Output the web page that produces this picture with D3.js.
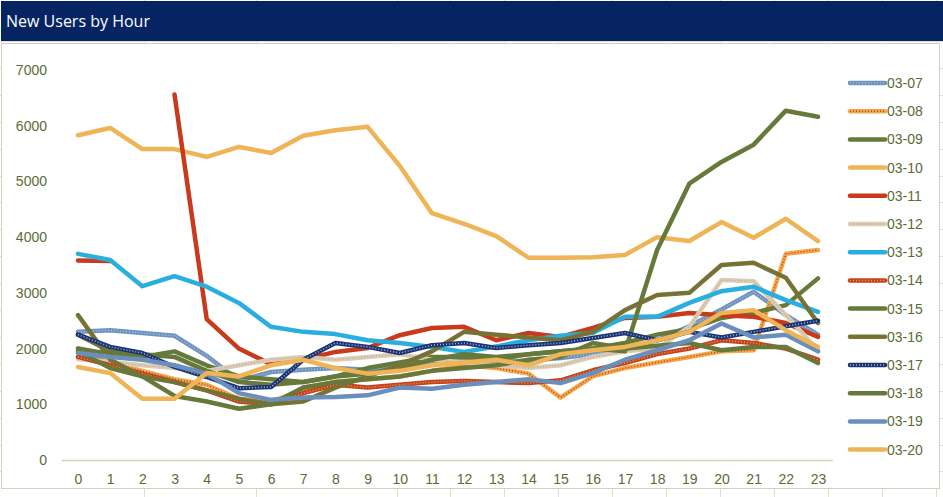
<!DOCTYPE html>
<html>
<head>
<meta charset="utf-8">
<title>New Users by Hour</title>
<script src="https://cdn.jsdelivr.net/npm/d3@7/dist/d3.min.js"></script>
<style>
    body { margin: 0; background: #fff; }
    svg { display: block; }
    text { font-family: "Liberation Sans Narrow", "Liberation Sans", Arial, sans-serif; }
</style>
</head>
<body>
<div id="chart"></div>
<script>
// hours on the x axis
var hours = [0, 1, 2, 3, 4, 5, 6, 7, 8, 9, 10, 11, 12, 13, 14, 15, 16, 17, 18, 19, 20, 21, 22, 23];
var yTicks = [0, 1000, 2000, 3000, 4000, 5000, 6000, 7000];

// new users per hour, one array per day
var d0307 = [2300, 2330, 2280, 2230, 1870, 1420, 1580, 1620, 1650, 1620, 1700, 1720, 1800, 1760, 1780, 1830, 1900, 2000, 2150, 2400, 2700, 3020, 2600, 2250];
var d0308 = [2000, 1750, 1600, 1450, 1350, 1100, 1050, 1250, 1400, 1450, 1500, 1600, 1700, 1650, 1550, 1120, 1500, 1650, 1750, 1850, 1950, 1970, 3700, 3770];
var d0309 = [2000, 1900, 1850, 1950, 1700, 1500, 1450, 1400, 1500, 1650, 1750, 1850, 1850, 1800, 1900, 1950, 2000, 2100, 2250, 2350, 2550, 2640, 2780, 3260];
var d0310 = [5830, 5960, 5580, 5580, 5440, 5620, 5510, 5820, 5920, 5980, 5280, 4430, 4240, 4020, 3630, 3630, 3640, 3680, 4000, 3930, 4270, 3990, 4330, 3930];
var d0311 = [3580, 3570, null, 6560, 2530, 2000, 1720, 1800, 1940, 2010, 2240, 2370, 2390, 2150, 2280, 2210, 2370, 2550, 2570, 2640, 2600, 2570, 2460, 2210];
var d0312 = [1810, 1760, 1700, 1650, 1600, 1700, 1800, 1850, 1800, 1850, 1900, 1800, 1750, 1700, 1650, 1700, 1850, 1950, 2000, 2390, 3230, 3210, 2600, 1970];
var d0313 = [3700, 3590, 3120, 3300, 3110, 2820, 2390, 2300, 2260, 2150, 2100, 2030, 1940, 2040, 2150, 2230, 2280, 2570, 2570, 2820, 3030, 3110, 2870, 2660];
var d0314 = [1850, 1700, 1550, 1400, 1250, 1050, 1000, 1200, 1350, 1300, 1350, 1400, 1420, 1400, 1380, 1430, 1610, 1740, 1900, 2000, 2150, 2100, 2000, 1800];
var d0315 = [2250, 1950, 1900, 1850, 1600, 1400, 1350, 1400, 1500, 1550, 1650, 1800, 1900, 1850, 1900, 1950, 2000, 1950, 3770, 4960, 5350, 5660, 6270, 6160];
var d0316 = [2600, 1800, 1500, 1400, 1250, 1100, 1000, 1050, 1300, 1500, 1700, 1950, 2300, 2250, 2200, 2150, 2300, 2690, 2960, 3000, 3500, 3540, 3270, 2460];
var d0317 = [2250, 2030, 1920, 1670, 1490, 1290, 1310, 1800, 2100, 2030, 1920, 2060, 2100, 2010, 2060, 2100, 2190, 2280, 2150, 2300, 2200, 2300, 2400, 2500];
var d0318 = [1950, 1650, 1500, 1150, 1050, 920, 1000, 1300, 1400, 1450, 1500, 1600, 1650, 1700, 1800, 1850, 2100, 2000, 2050, 2100, 1970, 2030, 2030, 1740];
var d0319 = [1920, 1850, 1800, 1700, 1550, 1200, 1080, 1120, 1130, 1160, 1300, 1280, 1350, 1400, 1450, 1380, 1560, 1800, 1970, 2150, 2450, 2200, 2250, 1950];
var d0320 = [1670, 1560, 1100, 1100, 1560, 1500, 1700, 1800, 1650, 1550, 1600, 1700, 1750, 1800, 1700, 1900, 1970, 2030, 2150, 2300, 2640, 2690, 2330, 2030];

var dayNames = ["03-07", "03-08", "03-09", "03-10", "03-11", "03-12", "03-13",
                "03-14", "03-15", "03-16", "03-17", "03-18", "03-19", "03-20"];
var dayValues = [d0307, d0308, d0309, d0310, d0311, d0312, d0313,
                 d0314, d0315, d0316, d0317, d0318, d0319, d0320];

// line colour, and the second colour Excel uses for its patterned lines
var lineColors = ["#6F93BE", "#F0A94A", "#67793A", "#EEB456", "#C9391B", "#DCCDB4", "#2AAEE0",
                  "#C4401E", "#67793A", "#6C7A38", "#1C3474", "#67793A", "#6B8FBC", "#EEB456"];
var dotColors = ["#9FC0E0", "#D2391E", null, null, null, "#B8B0A0", null,
                 "#E8A040", null, "#C8421E", "#A8B4D0", null, null, null];

var W = 943, H = 497;
var axisColor = "#D6D0BD";
var labelColor = "#5B6B36";

var svg = d3.select("#chart").append("svg")
    .attr("width", W)
    .attr("height", H);

// spreadsheet cells behind the chart
var cellRows = d3.range(41, H, 26.9);
var cellCols = [144, 256, 397, 450, 504, 558, 612, 666, 720, 774, 828, 882, 936];
svg.append("g").selectAll("line.row").data(cellRows).enter().append("line")
    .attr("x1", 0).attr("x2", W)
    .attr("y1", function(d) { return Math.round(d) + 0.5; })
    .attr("y2", function(d) { return Math.round(d) + 0.5; })
    .attr("stroke", "#E2DED0");
svg.append("g").selectAll("line.col").data(cellCols).enter().append("line")
    .attr("x1", function(d) { return d + 0.5; })
    .attr("x2", function(d) { return d + 0.5; })
    .attr("y1", 0).attr("y2", H)
    .attr("stroke", "#E2DED0");

// title bar
svg.append("rect")
    .attr("x", 1).attr("y", 1)
    .attr("width", W - 1).attr("height", 40)
    .attr("fill", "#062462");
svg.append("text")
    .attr("x", 6).attr("y", 27)
    .attr("fill", "#fff")
    .style("font-family", "'Open Sans', 'Liberation Sans', sans-serif")
    .style("font-size", "16px")
    .text("New Users by Hour");

// chart area
svg.append("rect")
    .attr("x", 1.5).attr("y", 43.5)
    .attr("width", 938).attr("height", 445)
    .attr("fill", "#fff")
    .attr("stroke", axisColor);

var x = d3.scalePoint()
    .domain(hours)
    .range([78, 818]);

var y = d3.scaleLinear()
    .domain([0, 7000])
    .range([460, 70]);

// y axis labels only, no gridlines
var yAxis = d3.axisLeft(y)
    .tickValues(yTicks)
    .tickFormat(d3.format("d"))
    .tickSize(0)
    .tickPadding(0);
var gy = svg.append("g")
    .attr("transform", "translate(47,0)")
    .call(yAxis);
gy.select(".domain").remove();
gy.selectAll("text")
    .attr("fill", labelColor)
    .style("font-size", "14px");

// x axis
var xAxis = d3.axisBottom(x)
    .tickSize(0)
    .tickPadding(0);
var gx = svg.append("g")
    .attr("transform", "translate(0,474)")
    .call(xAxis);
gx.select(".domain").remove();
gx.selectAll("text")
    .attr("fill", labelColor)
    .style("font-size", "14px");

svg.append("line")
    .attr("x1", 62).attr("x2", 833)
    .attr("y1", y(0) + 0.5).attr("y2", y(0) + 0.5)
    .attr("stroke", axisColor)
    .attr("stroke-width", 1.5);

var line = d3.line()
    .defined(function(d) { return d !== null; })
    .x(function(d, i) { return x(hours[i]); })
    .y(function(d) { return y(d); });

// draw each day, first day at the bottom
var series = svg.append("g").selectAll("g")
    .data(dayValues)
    .enter().append("g");

series.append("path")
    .attr("d", line)
    .attr("fill", "none")
    .attr("stroke", function(d, i) { return lineColors[i]; })
    .attr("stroke-width", 4.5)
    .attr("stroke-linejoin", "round")
    .attr("stroke-linecap", "round");

series.filter(function(d, i) { return dotColors[i]; })
    .append("path")
    .attr("d", line)
    .attr("fill", "none")
    .attr("stroke", function(d) { return dotColors[dayValues.indexOf(d)]; })
    .attr("stroke-width", 1.5)
    .attr("stroke-dasharray", "1,2");

// legend
var legend = svg.append("g").selectAll("g")
    .data(dayNames)
    .enter().append("g")
    .attr("transform", function(d, i) { return "translate(850," + (83 + i * 28.2) + ")"; });

legend.append("line")
    .attr("x1", 0).attr("x2", 35)
    .attr("stroke", function(d, i) { return lineColors[i]; })
    .attr("stroke-width", 4.5)
    .attr("stroke-linecap", "round");

legend.filter(function(d, i) { return dotColors[i]; })
    .append("line")
    .attr("x1", 0).attr("x2", 35)
    .attr("stroke", function(d) { return dotColors[dayNames.indexOf(d)]; })
    .attr("stroke-width", 1.5)
    .attr("stroke-dasharray", "1,2");

legend.append("text")
    .attr("x", 37)
    .attr("dy", "0.35em")
    .attr("fill", labelColor)
    .style("font-size", "14px")
    .text(function(d) { return d; });
</script>
</body>
</html>
